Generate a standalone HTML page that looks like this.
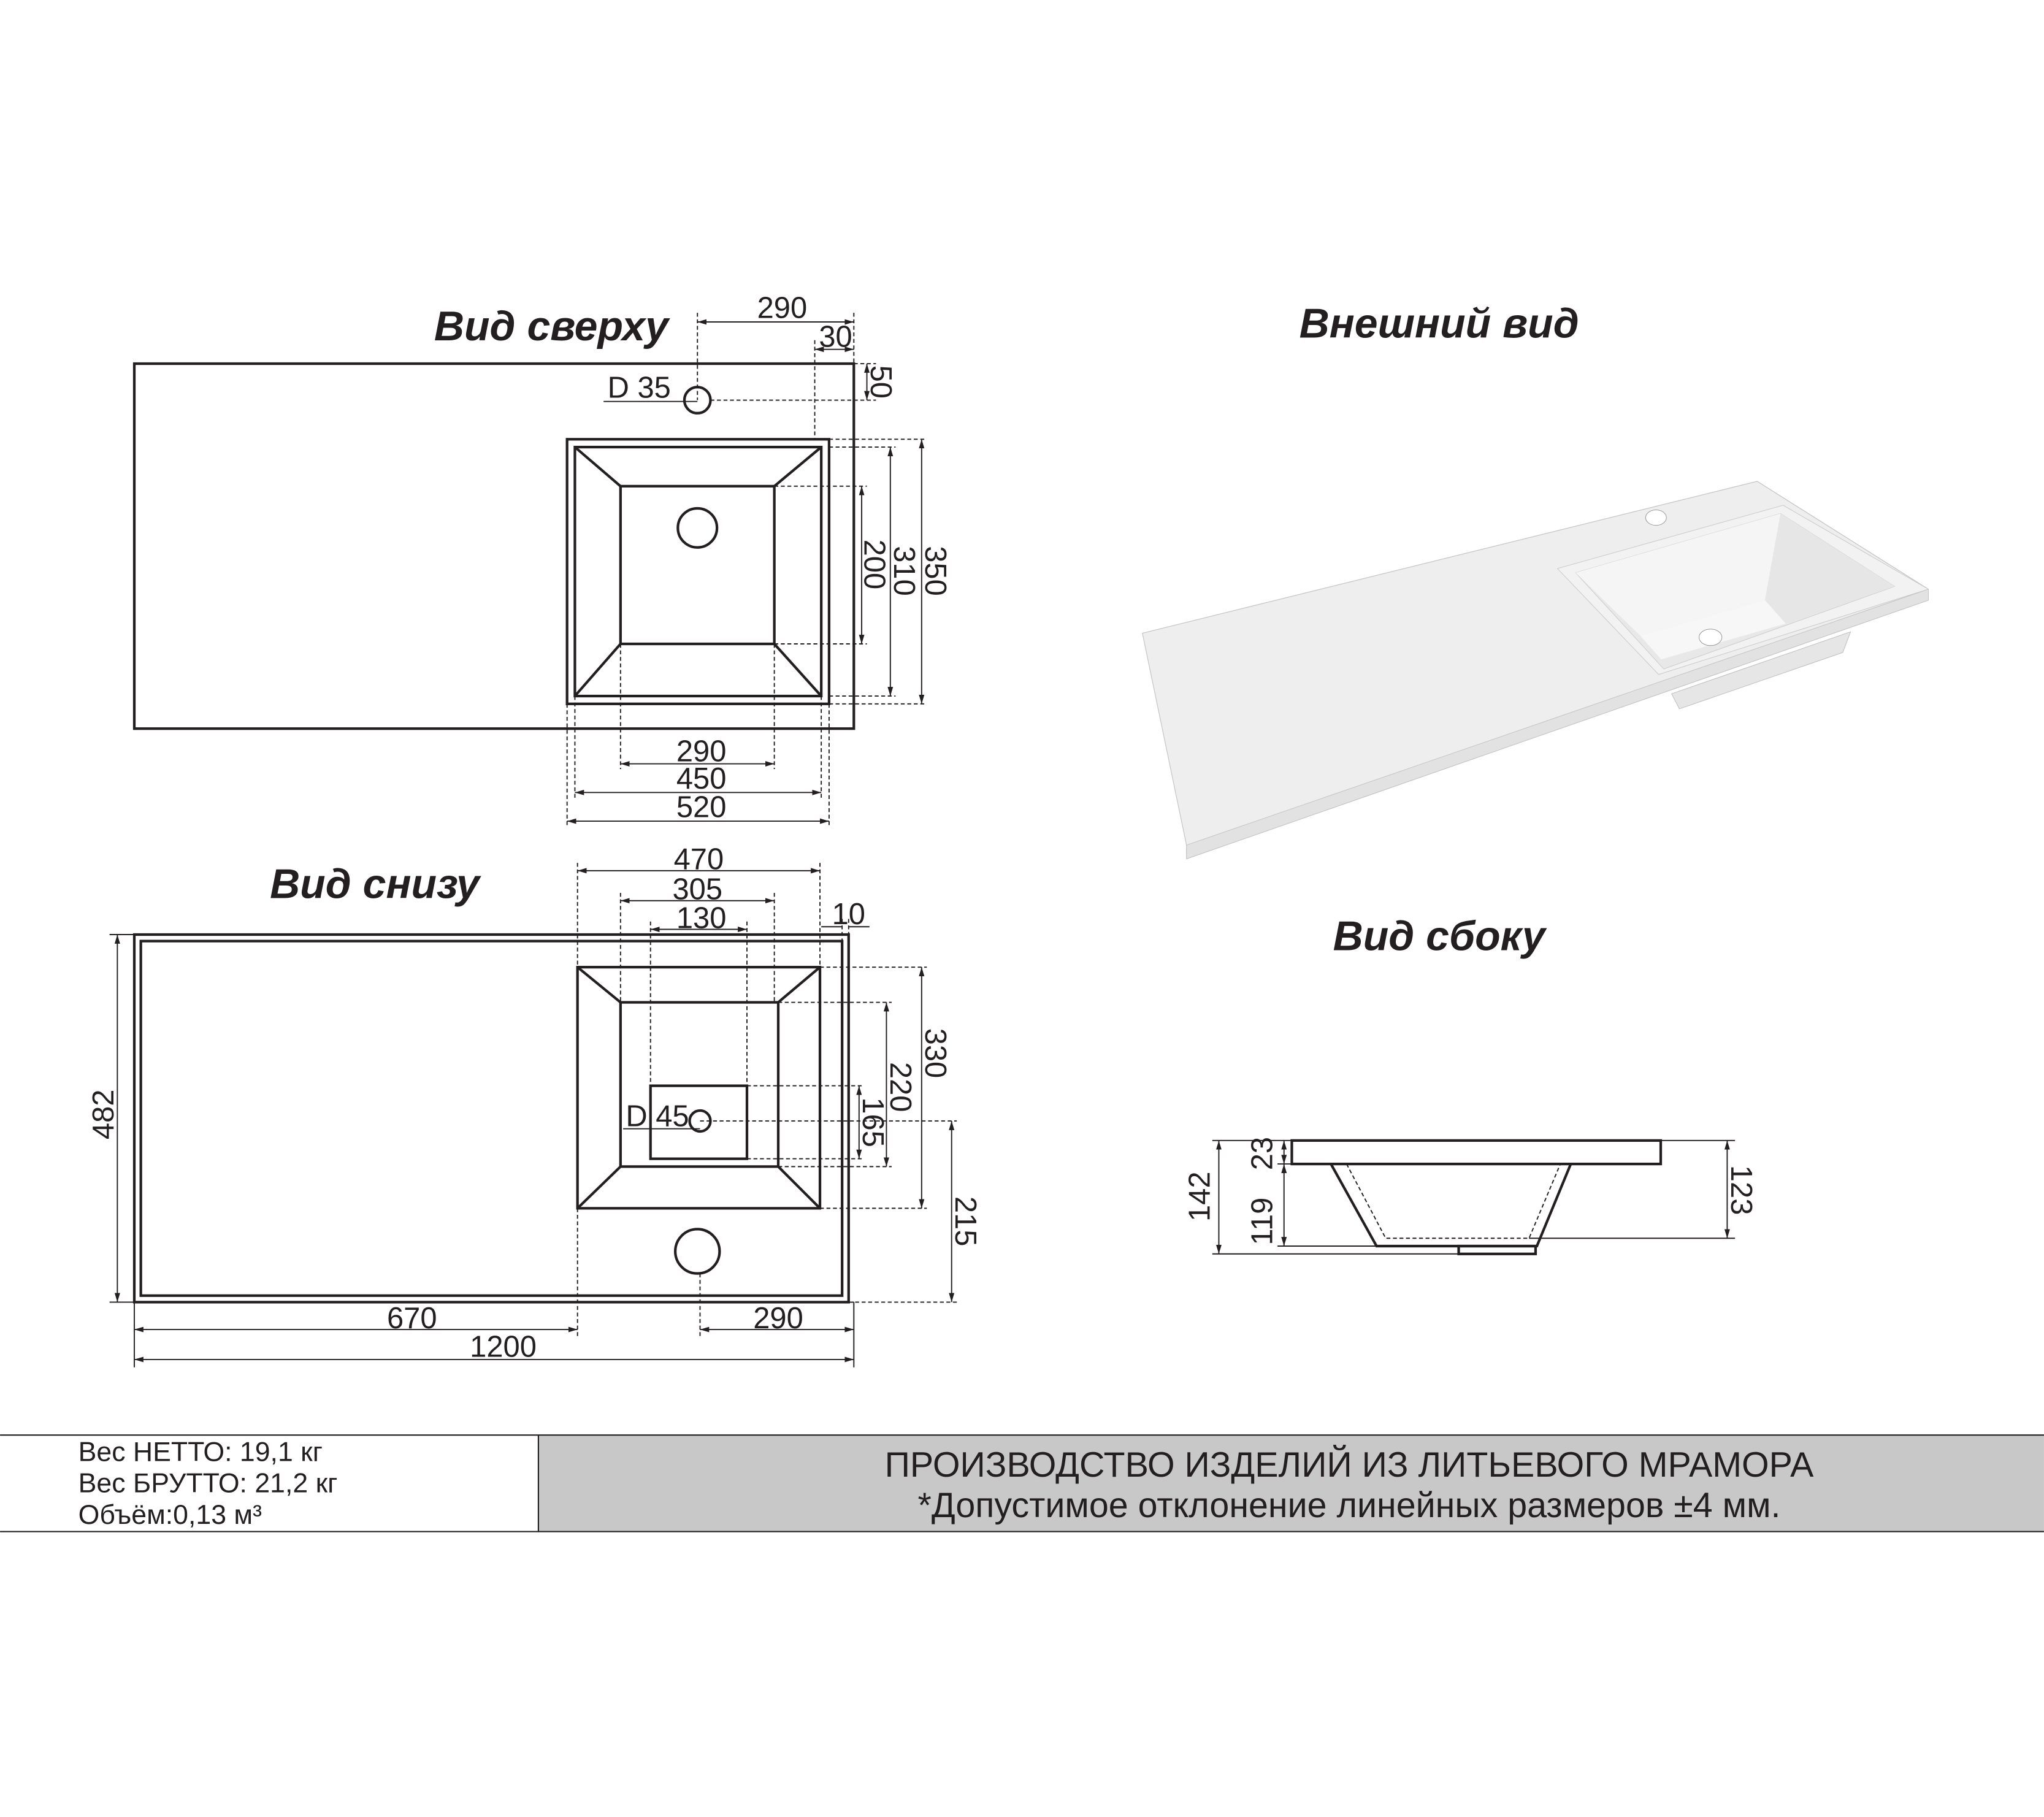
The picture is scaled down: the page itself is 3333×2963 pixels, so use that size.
<!DOCTYPE html>
<html><head><meta charset="utf-8"><style>
html,body{margin:0;padding:0;background:#fff;}
svg{display:block;}
text{font-family:"Liberation Sans",Arial,sans-serif;fill:#231f20;}
.t{font-size:32px;font-weight:bold;font-style:italic;}
.d{font-size:23px;}
.s{stroke:#231f20;fill:none;stroke-width:2;}
.th{stroke:#231f20;fill:none;stroke-width:0.9;}
.ds{stroke:#231f20;fill:none;stroke-width:0.9;stroke-dasharray:3 2;}
.dm{stroke:#231f20;fill:none;stroke-width:0.9;marker-start:url(#a);marker-end:url(#a);}
</style></head><body>
<svg width="3333" height="2963" viewBox="0 0 1568 1394" xmlns="http://www.w3.org/2000/svg">
<defs>
<marker id="a" viewBox="0 0 10 10" refX="10" refY="5" markerWidth="7" markerHeight="7" orient="auto-start-reverse" markerUnits="userSpaceOnUse"><path d="M0,2 L10,5 L0,8 z" fill="#231f20"/></marker>
</defs>
<rect width="1568" height="1394" fill="#fff"/>

<!-- Titles -->
<text class="t" x="333" y="261">Вид сверху</text>
<text class="t" x="1104" y="259" text-anchor="middle">Внешний вид</text>
<text class="t" x="207" y="689">Вид снизу</text>
<text class="t" x="1104" y="729" text-anchor="middle">Вид сбоку</text>

<!-- ===== TOP VIEW ===== -->
<rect class="s" x="103" y="279" width="552" height="280"/>
<rect class="s" x="435" y="337" width="201" height="203"/>
<rect class="s" x="441" y="343" width="189" height="191"/>
<rect class="s" x="476" y="373" width="118" height="121"/>
<path class="s" d="M441,343 L476,373 M630,343 L594,373 M441,534 L476,494 M630,534 L594,494"/>
<circle class="s" cx="535" cy="405" r="15"/>
<circle class="s" cx="535" cy="307" r="10"/>
<path class="ds" d="M535,240 V307 M655,240 V279 M625,261 V337 M545,307 H672 M655,279 H672"/>
<path class="dm" d="M535,247 H655"/>
<text class="d" x="600" y="244" text-anchor="middle">290</text>
<path class="dm" d="M625,268 H655"/>
<text class="d" x="641" y="266" text-anchor="middle">30</text>
<path class="dm" d="M665,279 V307"/>
<text class="d" transform="translate(668,293) rotate(90)" text-anchor="middle">50</text>
<text class="d" x="466" y="305">D 35</text>
<path class="th" d="M463,308 H535"/>
<path class="ds" d="M594,373 H665 M594,494 H665 M636,343 H687 M636,534 H687 M636,337 H711 M636,540 H711"/>
<path class="dm" d="M661,373 V494"/>
<text class="d" transform="translate(663,433) rotate(90)" text-anchor="middle">200</text>
<path class="dm" d="M683,343 V534"/>
<text class="d" transform="translate(686,438) rotate(90)" text-anchor="middle">310</text>
<path class="dm" d="M707,337 V540"/>
<text class="d" transform="translate(710,438) rotate(90)" text-anchor="middle">350</text>
<path class="ds" d="M476,494 V590 M594,494 V590 M441,534 V612 M630,534 V612 M435,540 V634 M636,540 V634"/>
<path class="dm" d="M476,586 H594"/>
<text class="d" x="538" y="584" text-anchor="middle">290</text>
<path class="dm" d="M441,608 H630"/>
<text class="d" x="538" y="605" text-anchor="middle">450</text>
<path class="dm" d="M435,630 H636"/>
<text class="d" x="538" y="627" text-anchor="middle">520</text>

<!-- ===== BOTTOM VIEW ===== -->
<rect class="s" x="103" y="717" width="548" height="282"/>
<rect class="s" x="108" y="722" width="538" height="272"/>
<rect class="s" x="443" y="742" width="186" height="185"/>
<rect class="s" x="476" y="769" width="121" height="126"/>
<path class="s" d="M443,742 L476,769 M629,742 L597,769 M443,927 L476,895 M629,927 L597,895"/>
<rect class="s" x="499" y="833" width="74" height="56"/>
<circle class="s" cx="537" cy="860" r="8"/>
<circle class="s" cx="535" cy="960" r="17"/>
<text class="d" x="480" y="864">D 45</text>
<path class="th" d="M478,866 H537"/>
<path class="ds" d="M443,662 V742 M629,662 V742 M476,685 V769 M594,685 V769 M499,707 V833 M573,707 V833 M646,705 V722 M651,705 V717"/>
<path class="dm" d="M443,668 H629"/>
<text class="d" x="536" y="667" text-anchor="middle">470</text>
<path class="dm" d="M476,691 H594"/>
<text class="d" x="535" y="690" text-anchor="middle">305</text>
<path class="dm" d="M499,713 H573"/>
<text class="d" x="538" y="712" text-anchor="middle">130</text>
<path class="th" d="M630,711 H646 M651,711 H667"/>
<text class="d" x="651" y="709" text-anchor="middle">10</text>
<path class="ds" d="M629,742 H711 M629,927 H711 M597,769 H684 M597,895 H684 M573,833 H663 M573,889 H663 M537,860 H734 M651,999 H734"/>
<path class="dm" d="M707,742 V927"/>
<text class="d" transform="translate(710,808) rotate(90)" text-anchor="middle">330</text>
<path class="dm" d="M680,769 V895"/>
<text class="d" transform="translate(683,834) rotate(90)" text-anchor="middle">220</text>
<path class="dm" d="M659,833 V889"/>
<text class="d" transform="translate(662,861) rotate(90)" text-anchor="middle">165</text>
<path class="dm" d="M730,860 V999"/>
<text class="d" transform="translate(733,937) rotate(90)" text-anchor="middle">215</text>
<path class="th" d="M84,717 H103 M84,999 H103"/>
<path class="dm" d="M90,717 V999"/>
<text class="d" transform="translate(87,855) rotate(-90)" text-anchor="middle">482</text>
<path class="th" d="M103,999 V1049 M655,999 V1049 M651,999 H655"/>
<path class="ds" d="M443,927 V1025 M537,977 V1025"/>
<path class="dm" d="M103,1020 H443"/>
<text class="d" x="316" y="1019" text-anchor="middle">670</text>
<path class="dm" d="M537,1020 H655"/>
<text class="d" x="597" y="1019" text-anchor="middle">290</text>
<path class="dm" d="M103,1043 H655"/>
<text class="d" x="386" y="1041" text-anchor="middle">1200</text>

<!-- ===== SIDE VIEW ===== -->
<rect class="s" x="991" y="875" width="283" height="18"/>
<path class="s" d="M1021,893 L1056,956 L1179,956 L1205,893"/>
<path class="ds" d="M1033,893 L1063,950 L1173,950 L1197,893"/>
<rect class="s" x="1119" y="956" width="59" height="6"/>
<path class="th" d="M930,875 H991 M1274,875 H1331 M980,893 H991 M980,956 H1056 M930,962 H1119 M1173,950 H1331"/>
<path class="dm" d="M935,875 V962"/>
<text class="d" transform="translate(928,918) rotate(-90)" text-anchor="middle">142</text>
<path class="dm" d="M985,875 V893"/>
<text class="d" transform="translate(976,885) rotate(-90)" text-anchor="middle">23</text>
<path class="dm" d="M985,893 V956"/>
<text class="d" transform="translate(976,937) rotate(-90)" text-anchor="middle">119</text>
<path class="dm" d="M1325,875 V950"/>
<text class="d" transform="translate(1328,913) rotate(90)" text-anchor="middle">123</text>

<!-- ===== 3D VIEW ===== -->
<g transform="matrix(0.398 0 0 0.2111 870.4 352.8)" stroke-linejoin="round">
<path d="M1035,850 L1380,625 L1365,700 L1050,905 Z" fill="#e6e6e6" stroke="#bdbdbd" vector-effect="non-scaling-stroke"/>
<path d="M15,630 L1200,78 L1530,470 L1530,510 L100,1450 L100,1400 Z" fill="#eeeeee" stroke="#c4c4c4" stroke-width="1.2" vector-effect="non-scaling-stroke"/>
<path d="M100,1400 L1530,470 L1530,510 L100,1450 Z" fill="#e2e2e2" stroke="#c4c4c4" vector-effect="non-scaling-stroke"/>
<path d="M815,395 L1250,165 L1530,470 L1010,780 Z" fill="#f2f2f2" stroke="#c8c8c8" vector-effect="non-scaling-stroke"/>
<path d="M850,410 L1245,195 L1465,460 L1020,760 Z" fill="#e8e8e8" stroke="#cccccc" vector-effect="non-scaling-stroke"/>
<path d="M850,410 L1245,195 L1215,510 L975,640 Z" fill="#f5f5f5"/>
<path d="M1245,195 L1465,460 L1255,595 L1215,510 Z" fill="#e6e6e6"/>
<path d="M975,640 L1215,510 L1255,595 L1015,725 Z" fill="#f7f7f7"/>
<ellipse cx="1110" cy="645" rx="22" ry="30" fill="#fff" stroke="#999" vector-effect="non-scaling-stroke"/>
<ellipse cx="1005" cy="210" rx="20" ry="28" fill="#fff" stroke="#999" vector-effect="non-scaling-stroke"/>
</g>

<!-- ===== TABLE ===== -->
<rect x="413" y="1101" width="1155" height="74" fill="#c8c8c8"/>
<path d="M0,1101 H1568 M0,1175 H1568 M413,1101 V1175" stroke="#231f20" stroke-width="1" fill="none"/>
<text x="60" y="1121" style="font-size:21px">Вес НЕТТО: 19,1 кг</text>
<text x="60" y="1145" style="font-size:21px">Вес БРУТТО: 21,2 кг</text>
<text x="60" y="1169" style="font-size:21px">Объём:0,13 м³</text>
<text x="1035" y="1133" text-anchor="middle" style="font-size:27px">ПРОИЗВОДСТВО ИЗДЕЛИЙ ИЗ ЛИТЬЕВОГО МРАМОРА</text>
<text x="1035" y="1164" text-anchor="middle" style="font-size:27px">*Допустимое отклонение линейных размеров ±4 мм.</text>
</svg>
</body></html>
